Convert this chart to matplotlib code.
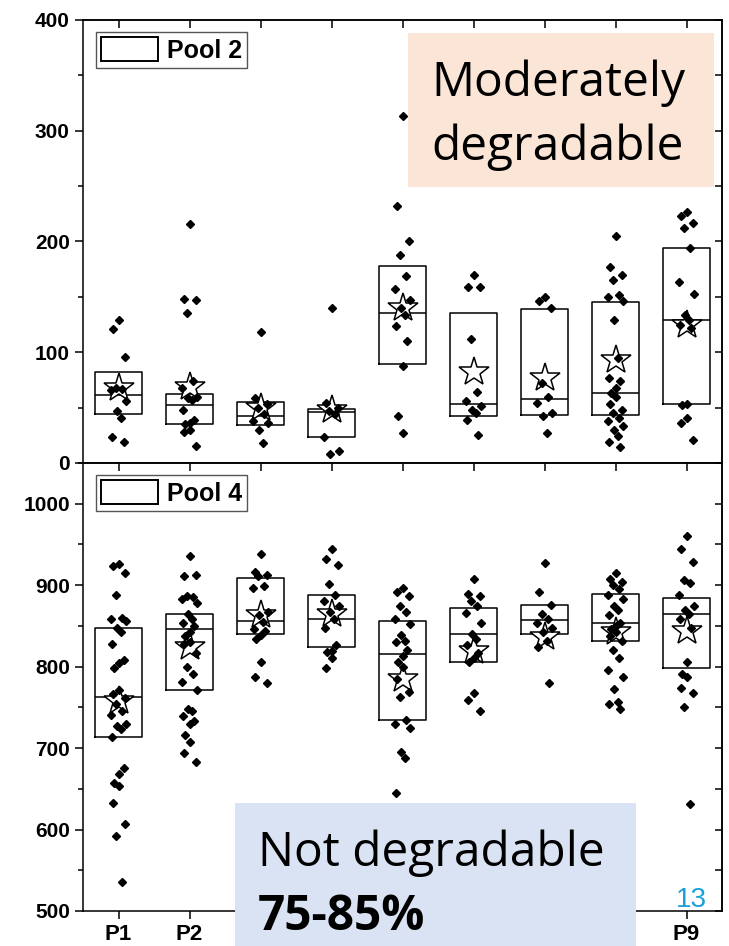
import matplotlib
matplotlib.use('Agg')
import matplotlib.pyplot as plt
import numpy as np
from matplotlib.patches import Rectangle, Patch
from matplotlib.ticker import MultipleLocator

categories = ['P1', 'P2', 'P3', 'P4', 'P5', 'P6', 'P7', 'P8', 'P9']
# labels P3..P8 sit under the "Not degradable" box in the original
hidden_labels = ['P3', 'P4', 'P5', 'P6', 'P7', 'P8']

# Pool 2 (upper panel)
pool2_points = [
    [129, 121, 96, 68, 67, 66, 56, 47, 41, 23, 19],
    [216, 148, 147, 135, 74, 68, 60, 59, 57, 48, 39, 36, 35, 30, 28, 15],
    [118, 59, 53, 50, 44, 38, 36, 30, 18],
    [140, 54, 50, 47, 44, 23, 11, 8],
    [313, 232, 200, 188, 169, 157, 147, 140, 134, 124, 110, 88, 42, 27],
    [170, 159, 159, 112, 64, 56, 51, 48, 45, 39, 25],
    [150, 146, 140, 72, 60, 54, 45, 42, 27],
    [205, 177, 170, 165, 152, 150, 146, 129, 95, 77, 74, 68, 63, 60, 53, 48,
     45, 41, 38, 33, 30, 24, 19, 14],
    [227, 223, 217, 212, 194, 163, 153, 134, 129, 125, 122, 53, 52, 41, 36, 21],
]
pool2_q1 = [44, 35, 34, 23, 89, 42, 43, 43, 53]
pool2_med = [61, 52, 42, 46, 135, 53, 58, 63, 129]
pool2_q3 = [82, 62, 55, 49, 178, 135, 139, 145, 194]
pool2_mean = [68, 69, 50, 48, 140, 82, 77, 93, 125]

# Pool 4 (lower panel)
pool4_points = [
    [926, 924, 915, 888, 860, 859, 856, 848, 843, 828, 808, 804, 798, 771, 767,
     762, 754, 746, 741, 729, 727, 723, 714, 675, 668, 657, 653, 633, 607, 592, 536],
    [936, 911, 913, 887, 885, 883, 878, 865, 859, 854, 850, 842, 838, 830, 828,
     817, 800, 791, 781, 771, 748, 746, 739, 733, 730, 716, 707, 694, 683],
    [938, 916, 913, 911, 899, 897, 867, 863, 855, 846, 844, 839, 834, 806, 787, 780],
    [945, 932, 925, 902, 888, 880, 875, 867, 859, 848, 826, 819, 818, 811, 798],
    [896, 892, 887, 875, 867, 858, 852, 839, 832, 830, 821, 813, 806, 799, 785,
     769, 763, 735, 729, 725, 695, 688, 645],
    [908, 889, 887, 881, 875, 866, 854, 840, 834, 826, 817, 811, 806, 768, 759, 746],
    [927, 892, 876, 865, 859, 854, 848, 842, 831, 824, 780],
    [915, 907, 904, 900, 895, 888, 883, 875, 869, 863, 854, 850, 846, 842, 838,
     832, 821, 811, 796, 787, 772, 756, 754, 748],
    [960, 945, 928, 906, 903, 888, 875, 870, 865, 859, 848, 806, 791, 787, 774,
     768, 751, 631],
]
pool4_q1 = [714, 771, 840, 824, 735, 806, 840, 831, 798]
pool4_med = [763, 846, 856, 858, 816, 840, 857, 854, 865]
pool4_q3 = [848, 864, 909, 888, 856, 872, 876, 889, 884]
pool4_mean = [758, 824, 863, 865, 785, 819, 836, 842, 844]

JITTER = [0.0, -0.08, 0.09, -0.04, 0.05, -0.11, 0.11, -0.02, 0.03, -0.09, 0.07, 0.01, -0.06]

TICK_FONT = dict(family='Liberation Sans', weight='bold')
LW = 1.1


def draw_pool(ax, points, q1, med, q3, mean, label, ymin, ymax):
    pos = np.arange(1, len(categories) + 1)
    stats = []
    for i in range(len(categories)):
        stats.append(dict(med=med[i], q1=q1[i], q3=q3[i], whislo=q1[i],
                          whishi=q3[i], mean=mean[i], fliers=[]))
    ax.bxp(stats, positions=pos, widths=0.65, showmeans=True, showcaps=False,
           boxprops=dict(color='black', lw=LW),
           medianprops=dict(color='black', lw=LW),
           whiskerprops=dict(lw=0),
           meanprops=dict(marker='*', markerfacecolor='white',
                          markeredgecolor='black', markersize=22,
                          markeredgewidth=1.1),
           manage_ticks=False)
    for i, vals in enumerate(points):
        offs = np.array([JITTER[k % len(JITTER)] for k in range(len(vals))])
        ax.plot(pos[i] + offs, vals, ls='none', marker='D', color='black',
                markersize=4.5, zorder=4)

    ax.set_xlim(0.5, 9.5)
    ax.set_ylim(ymin, ymax)
    ax.set_xticks(pos)
    ax.yaxis.set_minor_locator(MultipleLocator(50))
    ax.tick_params(axis='both', which='major', direction='out', length=6,
                   width=LW, right=False, top=False, labelsize=15)
    ax.tick_params(axis='y', which='minor', direction='out', length=3.5,
                   width=LW, right=False)
    for sp in ax.spines.values():
        sp.set_linewidth(LW)

    sec_y = ax.secondary_yaxis('right')
    sec_y.yaxis.set_major_locator(MultipleLocator(100))
    sec_y.yaxis.set_minor_locator(MultipleLocator(50))
    sec_y.tick_params(which='both', direction='in', length=5, width=LW,
                      labelright=False)
    sec_y.spines['right'].set_linewidth(LW)
    sec_x = ax.secondary_xaxis('top')
    sec_x.set_xticks(pos)
    sec_x.tick_params(direction='in', length=6, width=LW, labeltop=False)
    sec_x.spines['top'].set_linewidth(LW)

    handle = Patch(facecolor='white', edgecolor='black', lw=1.4, label=label)
    leg = ax.legend(handles=[handle], loc='upper left',
                    prop=dict(family='Liberation Sans', weight='bold', size=18),
                    fancybox=False, edgecolor='#555555', framealpha=1,
                    handlelength=2.3, handleheight=1.1, borderpad=0.2,
                    handletextpad=0.35, borderaxespad=0.5)
    leg.get_frame().set_linewidth(1.0)


fig = plt.figure(figsize=(7.29, 9.46), dpi=100)
ax_top = fig.add_axes([0.1139, 0.5106, 0.8765, 0.4683])
ax_bot = fig.add_axes([0.1139, 0.0370, 0.8765, 0.4736])

draw_pool(ax_top, pool2_points, pool2_q1, pool2_med, pool2_q3, pool2_mean,
          'Pool 2', 0, 400)
ax_top.yaxis.set_major_locator(MultipleLocator(100))
ax_top.tick_params(axis='x', labelbottom=False)
for lab in ax_top.get_yticklabels():
    lab.set_fontproperties(TICK_FONT)
    lab.set_fontsize(15)

draw_pool(ax_bot, pool4_points, pool4_q1, pool4_med, pool4_q3, pool4_mean,
          'Pool 4', 500, 1050)
ax_bot.set_yticks([500, 600, 700, 800, 900, 1000])
ax_bot.set_xticklabels(categories, fontproperties=TICK_FONT, fontsize=16)
for lab in ax_bot.get_xticklabels():
    if lab.get_text() in hidden_labels:
        lab.set_visible(False)
for lab in ax_bot.get_yticklabels():
    lab.set_fontproperties(TICK_FONT)
    lab.set_fontsize(15)

# annotation boxes (drawn over the axes)
fig.add_artist(Rectangle((0.5597, 0.8023), 0.4198, 0.1628,
                         transform=fig.transFigure, facecolor='#fbe5d6',
                         edgecolor='none', zorder=5))
fig.text(0.5912, 0.8985, 'Moderately', family='Open Sans', fontsize=34.5,
         va='baseline', ha='left', zorder=6)
fig.text(0.5912, 0.8309, 'degradable', family='Open Sans', fontsize=34.5,
         va='baseline', ha='left', zorder=6)

fig.add_artist(Rectangle((0.3224, -0.01), 0.5501, 0.1612,
                         transform=fig.transFigure, facecolor='#dae3f3',
                         edgecolor='none', zorder=5))
fig.text(0.3539, 0.0846, 'Not degradable', family='Open Sans', fontsize=34.5,
         va='baseline', ha='left', zorder=6)
fig.text(0.3539, 0.0169, '75-85%', family='Open Sans', weight='bold',
         fontsize=34.5, va='baseline', ha='left', zorder=6)

fig.text(0.9698, 0.0412, '13', family='Liberation Sans', fontsize=20,
         color='#1aa0d8', va='baseline', ha='right', zorder=6)

fig.savefig('out.png', dpi=100)
